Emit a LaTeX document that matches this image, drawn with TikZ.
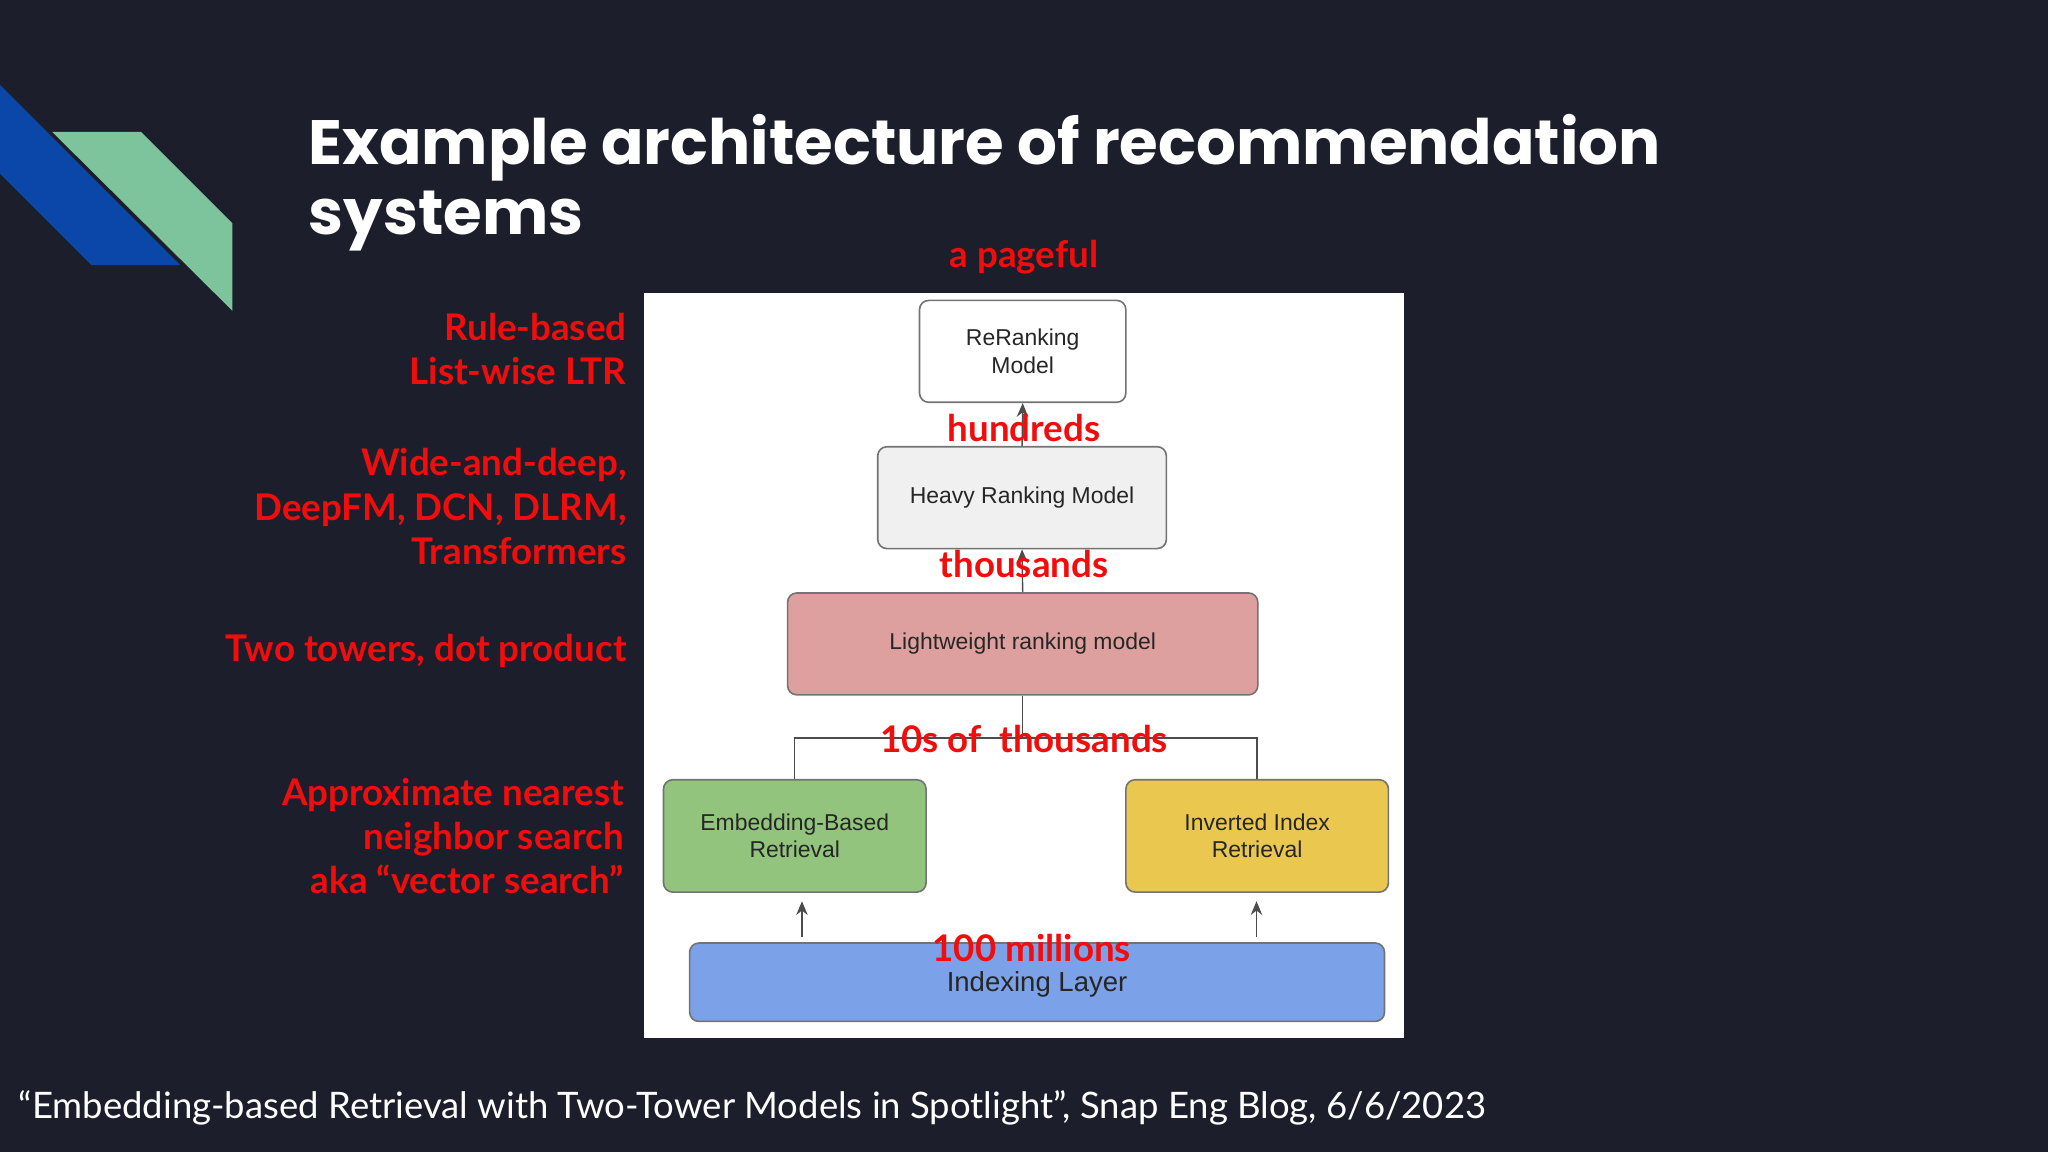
\documentclass[tikz,border=0pt]{standalone}
\usepackage{fontspec}
\setmainfont{Lato}
\newfontfamily\ttl{Poppins}
\newfontfamily\ars{Liberation Sans}
\usetikzlibrary{arrows.meta}
\definecolor{bg}{HTML}{1C1F2B}
\definecolor{rd}{HTML}{F20D0D}
\begin{document}
\begin{tikzpicture}[x=0.02cm,y=-0.02cm,
 lab/.style={text=rd,font=\bfseries\fontsize{16}{19.3}\selectfont,inner sep=0},
 box/.style={draw=black!55,rounded corners=4pt,line width=0.7pt,font=\ars\fontsize{10}{12}\selectfont,align=center,text=black!85},
 con/.style={draw=black!70,line width=0.6pt},
 arr/.style={con,-{Stealth[length=6pt,width=5pt]}}]
\fill[bg] (0,0) rectangle (1568,882);
\fill[fill={rgb,255:red,11;green,71;blue,168}] (0,65)--(138,203)--(70,203)--(0,133)--cycle;
\fill[fill={rgb,255:red,125;green,196;blue,156}] (40,101)--(108,101)--(178,171)--(178,238)--cycle;
\node[anchor=west,text=white,font=\ttl\bfseries\fontsize{27.3}{32}\selectfont,inner sep=0] (t1) at (236,113) {Example architecture of recommendation};
\node[anchor=west,text=white,font=\ttl\bfseries\fontsize{27.3}{32}\selectfont,inner sep=0] (t2) at (236,169) {systems};
\fill[white] (493,224) rectangle (1075,795);
\node[box,fill=white,minimum width=158*0.02cm,minimum height=78*0.02cm] (rr) at (783,269) {ReRanking\\Model};
\node[box,fill=black!6,minimum width=221*0.02cm,minimum height=78*0.02cm] (hv) at (782.5,381) {Heavy Ranking Model};
\node[box,fill={rgb,255:red,222;green,160;blue,158},minimum width=360*0.02cm,minimum height=78*0.02cm] (lw) at (783,493) {Lightweight ranking model};
\node[box,fill={rgb,255:red,147;green,196;blue,125},minimum width=201*0.02cm,minimum height=86*0.02cm] (eb) at (608.5,640) {Embedding-Based\\Retrieval};
\node[box,fill={rgb,255:red,234;green,200;blue,80},minimum width=201*0.02cm,minimum height=86*0.02cm] (ii) at (962.5,640) {Inverted Index\\Retrieval};
\node[box,fill={rgb,255:red,123;green,161;blue,232},minimum width=532*0.02cm,minimum height=60*0.02cm] (ix) at (794,752) {};
\node[font=\ars\fontsize{12}{14}\selectfont,text=black!85] (ixt) at (794,754) {Indexing Layer};
\draw[arr] (hv.north) -- (rr.south);
\draw[arr] (lw.north) -- (hv.south);
\coordinate (j) at (783,565);
\draw[con] (lw.south) -- (j);
\draw[con] (eb.north) |- (j) -| (ii.north);
\coordinate (a1) at (614,717); \coordinate (a2) at (614,690);
\coordinate (b1) at (962,717); \coordinate (b2) at (962,690);
\draw[arr] (a1) -- (a2);
\draw[arr] (b1) -- (b2);
\node[lab] (l1) at (784,197) {a pageful};
\node[lab] (l2) at (784,328) {hundreds};
\node[lab] (l3) at (784,432) {thousands};
\node[lab] (l4) at (784,566) {10s of\ \ thousands};
\node[lab] (l5) at (790,726) {100 millions};
\node[lab,anchor=east,align=right] (m1) at (480,267) {Rule-based\\List-wise LTR};
\node[lab,anchor=east,align=right] (m2) at (480,388) {Wide-and-deep,\\DeepFM, DCN, DLRM,\\Transformers};
\node[lab,anchor=east,align=right] (m3) at (480,498) {Two towers, dot product};
\node[lab,anchor=east,align=right] (m4) at (478,640) {Approximate nearest\\neighbor search\\aka “vector search”};
\node[anchor=west,text=white,font=\fontsize{15.9}{18}\selectfont,inner sep=0] (ft) at (14,848) {“Embedding-based Retrieval with Two-Tower Models in Spotlight”, Snap Eng Blog, 6/6/2023};
\end{tikzpicture}
\end{document}
